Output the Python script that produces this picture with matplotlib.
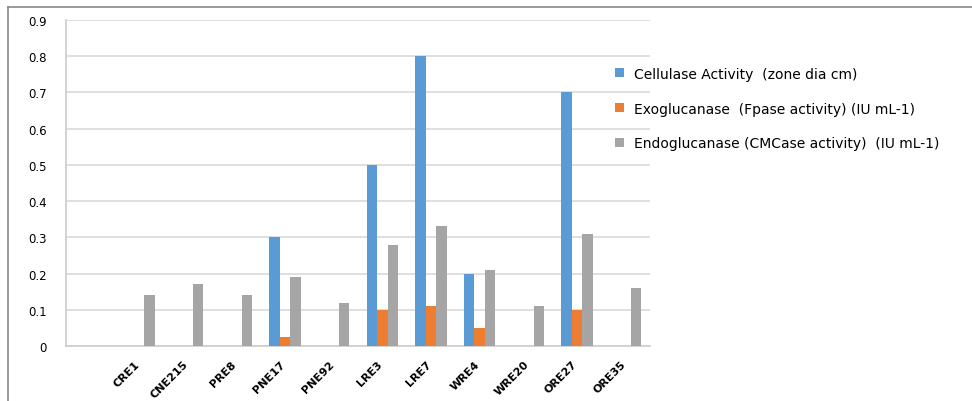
import numpy as np
import matplotlib.pyplot as plt
from matplotlib.lines import Line2D

# === Data ===
isolates = ["CRE1", "CNE215", "PRE8", "PNE17", "PNE92", "LRE3",
            "LRE7", "WRE4", "WRE20", "ORE27", "ORE35"]
cellulase = [0, 0, 0, 0.30, 0, 0.50, 0.80, 0.20, 0, 0.70, 0]
exoglucanase = [0, 0, 0, 0.025, 0, 0.10, 0.11, 0.05, 0, 0.10, 0]
endoglucanase = [0.14, 0.17, 0.14, 0.19, 0.12, 0.28, 0.33, 0.21, 0.11, 0.31, 0.16]

labels = ["Cellulase Activity  (zone dia cm)",
          "Exoglucanase  (Fpase activity) (IU mL-1)",
          "Endoglucanase (CMCase activity)  (IU mL-1)"]
colors = ["#5B9BD5", "#ED7D31", "#A5A5A5"]

# === Plot ===
fig = plt.figure(figsize=(9.72, 4.02), dpi=100)
ax = fig.add_axes([66 / 972, 55 / 402, 584 / 972, 326 / 402])

x = np.arange(len(isolates))
w = 0.215
for i, (vals, lab, col) in enumerate(zip([cellulase, exoglucanase, endoglucanase], labels, colors)):
    ax.bar(x + (i - 1) * w, vals, width=w, color=col, label=lab, zorder=3)

ax.set_xlim(-1.5, len(isolates) - 0.5)
ax.set_ylim(0, 0.9)
ax.set_yticks(np.arange(0, 0.91, 0.1))
ax.set_yticklabels(["0"] + [f"{v:.1f}" for v in np.arange(0.1, 0.91, 0.1)])
ax.yaxis.grid(True, color="#D9D9D9", linewidth=1.2, zorder=0)

ax.set_xticks(x - 0.1)
ax.set_xticklabels(isolates, rotation=45, ha="right", rotation_mode="anchor",
                   fontweight="bold", fontsize=8)
ax.tick_params(axis="y", length=0, pad=14, labelsize=8.5)
ax.tick_params(axis="x", length=0, pad=9)

for s in ["top", "right"]:
    ax.spines[s].set_visible(False)
ax.spines["left"].set_color("#CCCCCC")
ax.spines["bottom"].set_color("#CCCCCC")
ax.spines["left"].set_linewidth(1.2)
ax.spines["bottom"].set_linewidth(1.2)

ax.legend(loc="upper left", bbox_to_anchor=(0.918, 0.895), frameon=False,
          fontsize=10, handlelength=0.7, handleheight=0.6, handletextpad=0.7,
          labelspacing=1.5)

# outer chart border (top and left only visible)
fig.add_artist(Line2D([8 / 972, 1.0], [1 - 8 / 402, 1 - 8 / 402], color="#888888", linewidth=1.2))
fig.add_artist(Line2D([8 / 972, 8 / 972], [0, 1 - 8 / 402], color="#888888", linewidth=1.2))

fig.savefig("out.png", dpi=100)
